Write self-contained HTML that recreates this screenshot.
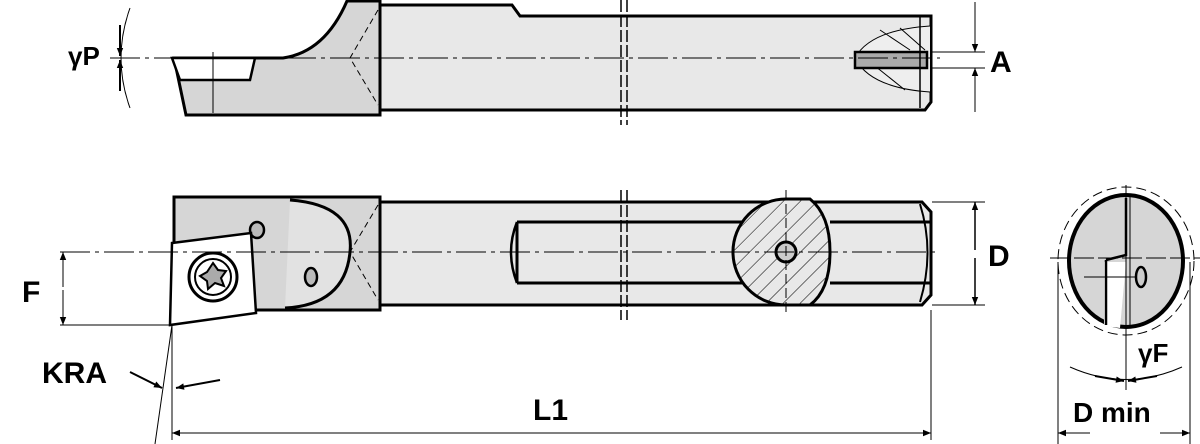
<!DOCTYPE html>
<html><head><meta charset="utf-8"><style>
html,body{margin:0;padding:0;background:#fff;}
svg{display:block;}
text{font-family:"Liberation Sans",sans-serif;font-weight:bold;fill:#000;}
</style></head><body>
<svg width="1200" height="444" viewBox="0 0 1200 444" xmlns="http://www.w3.org/2000/svg">
<defs>
<marker id="ar" viewBox="0 0 10 10" refX="10" refY="5" markerWidth="10" markerHeight="8" orient="auto-start-reverse" markerUnits="userSpaceOnUse"><path d="M0,1 L10,5 L0,9 z" fill="#000"/></marker>
<pattern id="hat" width="12" height="12" patternUnits="userSpaceOnUse" patternTransform="rotate(45)"><line x1="0" y1="0" x2="0" y2="12" stroke="#000" stroke-width="1"/></pattern>
</defs>
<g stroke="#000" fill="none">
<!-- TOP VIEW -->
<path d="M380,5 L512,5 L520,16 L931,16 L931,102 L925,110 L380,110 Z" fill="#e8e8e8" stroke-width="3"/>
<path d="M347,1 L380,1 L380,115 L186,115 L174,58 L255,58 L283,58 Q325,52 347,1 Z" fill="#d6d6d6" stroke-width="3"/>
<path d="M172,58 L255,58 L250,80 L180,80 Z" fill="#fff" stroke-width="2.5"/>
<line x1="213" y1="52" x2="213" y2="113" stroke-width="1"/>
<path d="M378,10 L350,58 L378,105" stroke-width="1" stroke-dasharray="6,4"/>
<line x1="621" y1="0" x2="621" y2="125" stroke-width="1.5" stroke-dasharray="12,3"/>
<line x1="627" y1="0" x2="627" y2="125" stroke-width="1.5" stroke-dasharray="12,3"/>
<path d="M930,26 Q870,30 855,58 Q870,88 930,92" fill="#eee" stroke-width="1"/>
<path d="M880,30 L910,50 M900,28 L925,50 M880,70 L905,90 M860,55 L880,70" stroke-width="1"/>
<rect x="855" y="52" width="72" height="16" fill="#aaa" stroke-width="2.5"/>
<line x1="920" y1="17" x2="920" y2="108" stroke-width="1.5"/>
<line x1="110" y1="58" x2="940" y2="58" stroke-width="1" stroke-dasharray="30,5,4,5"/>
<line x1="930" y1="52" x2="985" y2="52" stroke-width="1"/>
<line x1="930" y1="68" x2="985" y2="68" stroke-width="1"/>
<line x1="975" y1="2" x2="975" y2="52" stroke-width="1" marker-end="url(#ar)"/>
<line x1="975" y1="112" x2="975" y2="68" stroke-width="1" marker-end="url(#ar)"/>
<path d="M130,8 Q112,58 130,108" stroke-width="1"/>
<line x1="120" y1="25" x2="120" y2="56" stroke-width="2" marker-end="url(#ar)"/>
<line x1="120" y1="91" x2="120" y2="60" stroke-width="2" marker-end="url(#ar)"/>
<!-- BOTTOM VIEW -->
<path d="M380,202 L922,202 L931,212 L931,295 L922,305 L380,305 Z" fill="#e8e8e8" stroke-width="3"/>
<path d="M517,222 L750,222 M517,283 L750,283 M830,222 L930,222 M830,283 L930,283" stroke-width="3"/>
<path d="M517,222 Q505,252 517,283" stroke-width="2.5" fill="#e8e8e8"/>
<line x1="517" y1="222" x2="517" y2="283" stroke-width="3"/>
<path d="M920,204 Q935,252 920,302" stroke-width="2"/>
<rect x="174" y="197" width="206" height="113" fill="#d6d6d6" stroke-width="3"/>
<path d="M290,200 Q355,205 350,252 Q345,305 285,308" fill="#e2e2e2" stroke-width="3"/>
<path d="M378,205 L350,252 L378,300" stroke-width="1" stroke-dasharray="6,4"/>
<ellipse cx="257" cy="230" rx="7" ry="8" fill="#bbb" stroke-width="2.5"/>
<path d="M172,243 L251,233 L256,313 L170,325 Z" fill="#fff" stroke-width="2.5"/>
<circle cx="213" cy="277" r="24" stroke-width="3"/>
<circle cx="213" cy="277" r="18" stroke-width="2"/>
<path d="M213,263 L218,270 L226,271 L221,278 L224,286 L215,283 L208,289 L207,281 L200,276 L207,272 Z" fill="#aaa" stroke-width="2"/>
<ellipse cx="311" cy="277" rx="6" ry="9" fill="#bbb" stroke-width="2.5"/>
<path d="M786,199 A53,53 0 1 0 786,305 L810,305 Q830,290 830,252 Q830,215 810,199 Z" fill="#e8e8e8" stroke-width="3"/>
<path d="M786,199 A53,53 0 1 0 786,305 L810,305 Q830,290 830,252 Q830,215 810,199 Z" fill="url(#hat)" stroke="none"/>
<circle cx="786" cy="252" r="10" fill="#ccc" stroke-width="3"/>
<line x1="786" y1="190" x2="786" y2="315" stroke-width="1" stroke-dasharray="10,4"/>
<line x1="621" y1="190" x2="621" y2="320" stroke-width="1.5" stroke-dasharray="12,3"/>
<line x1="627" y1="190" x2="627" y2="320" stroke-width="1.5" stroke-dasharray="12,3"/>
<line x1="60" y1="252" x2="940" y2="252" stroke-width="1" stroke-dasharray="30,5,4,5"/>
<line x1="60" y1="325" x2="172" y2="325" stroke-width="1"/>
<line x1="63" y1="252" x2="63" y2="287" stroke-width="1" marker-start="url(#ar)"/>
<line x1="63" y1="290" x2="63" y2="325" stroke-width="1" marker-end="url(#ar)"/>
<line x1="932" y1="202" x2="985" y2="202" stroke-width="1"/>
<line x1="932" y1="305" x2="985" y2="305" stroke-width="1"/>
<line x1="975" y1="202" x2="975" y2="250" stroke-width="1.5" marker-start="url(#ar)"/>
<line x1="975" y1="258" x2="975" y2="305" stroke-width="1.5" marker-end="url(#ar)"/>
<!-- KRA / L1 -->
<line x1="172" y1="325" x2="155" y2="444" stroke-width="1"/>
<line x1="172" y1="325" x2="172" y2="440" stroke-width="1"/>
<line x1="130" y1="372" x2="162" y2="388" stroke-width="2" marker-end="url(#ar)"/>
<line x1="220" y1="380" x2="176" y2="388" stroke-width="2" marker-end="url(#ar)"/>
<line x1="931" y1="310" x2="931" y2="440" stroke-width="1"/>
<line x1="172" y1="433" x2="931" y2="433" stroke-width="1" marker-start="url(#ar)" marker-end="url(#ar)"/>
<!-- END VIEW -->
<ellipse cx="1126" cy="261" rx="57" ry="66" fill="#d6d6d6" stroke-width="4"/>
<path d="M1104,262 L1104,326 L1120,328 L1126,262 Z" fill="#fff" stroke="none"/>
<path d="M1106,260 L1106,325 M1126,198 L1126,255 L1106,260" stroke-width="2.5"/>
<path d="M1130,195 L1130,262 M1130,262 L1130,325" stroke-width="1"/>
<ellipse cx="1126" cy="261" rx="68" ry="74" stroke-width="1" stroke-dasharray="10,5"/>
<ellipse cx="1141" cy="277" rx="5" ry="10" fill="#ccc" stroke-width="2.5"/>
<line x1="1050" y1="258" x2="1200" y2="258" stroke-width="1" stroke-dasharray="20,4"/>
<line x1="1126" y1="185" x2="1126" y2="390" stroke-width="1"/>
<line x1="1084" y1="277" x2="1135" y2="277" stroke-width="1"/>
<line x1="1058" y1="262" x2="1058" y2="444" stroke-width="1"/>
<line x1="1190" y1="262" x2="1190" y2="444" stroke-width="1"/>
<line x1="1058" y1="433" x2="1090" y2="433" stroke-width="1" marker-start="url(#ar)"/>
<line x1="1160" y1="433" x2="1190" y2="433" stroke-width="1" marker-end="url(#ar)"/>
<path d="M1070,367 Q1126,392 1182,367" stroke-width="1"/>
<line x1="1095" y1="376" x2="1124" y2="381" stroke-width="2" marker-end="url(#ar)"/>
<line x1="1157" y1="376" x2="1128" y2="381" stroke-width="2" marker-end="url(#ar)"/>
</g>
<text x="68" y="65" font-size="26">γP</text>
<text x="990" y="72" font-size="30">A</text>
<text x="988" y="266" font-size="30">D</text>
<text x="22" y="302" font-size="30">F</text>
<text x="42" y="383" font-size="30">KRA</text>
<text x="533" y="420" font-size="30">L1</text>
<text x="1138" y="362" font-size="26">γF</text>
<text x="1073" y="422" font-size="28">D min</text>
</svg>
</body></html>
